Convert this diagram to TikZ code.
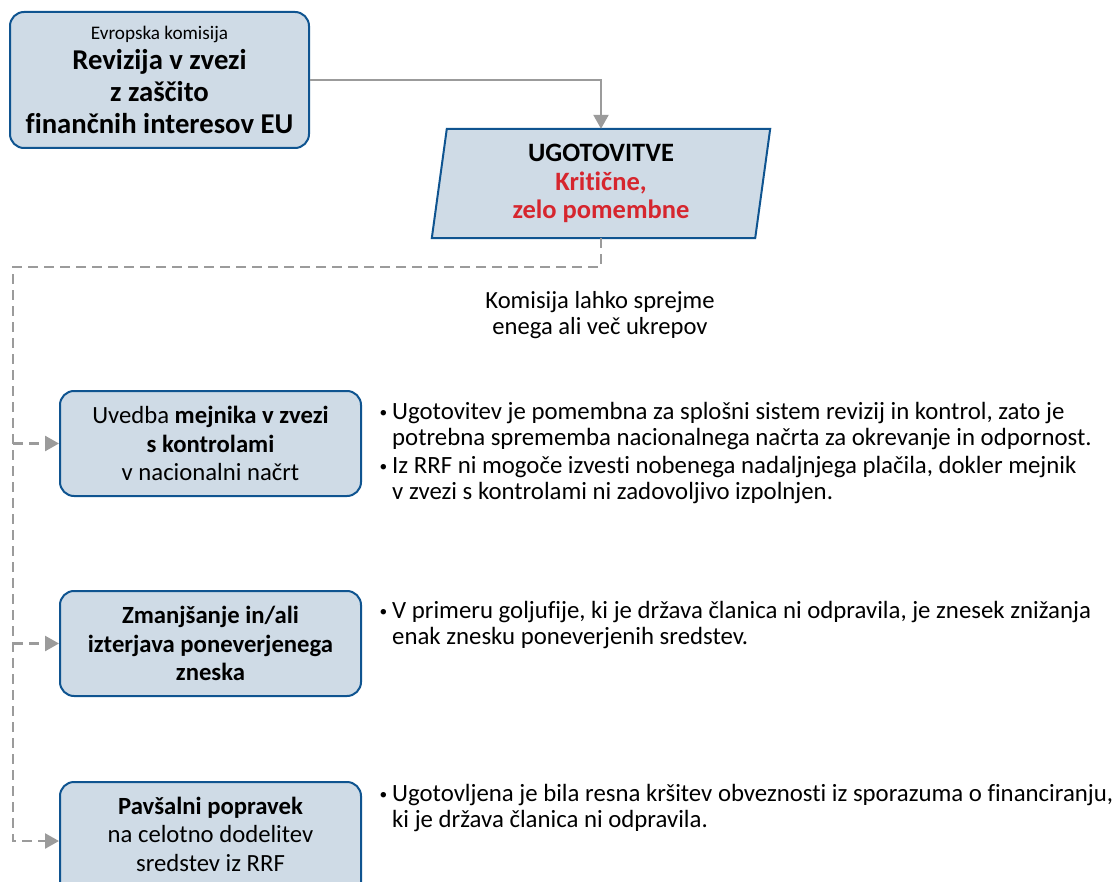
\documentclass[tikz,border=0pt]{standalone}
\usepackage{fontspec}
\setmainfont{Carlito}[Ligatures=NoCommon]
\usetikzlibrary{arrows.meta,backgrounds}
\definecolor{boxfill}{HTML}{CFDBE6}
\definecolor{boxline}{HTML}{0F5490}
\definecolor{conn}{HTML}{9B9B9B}
\definecolor{critred}{HTML}{D6262E}
\newcommand{\smallbul}{\llap{\raisebox{2.2pt}{\scalebox{0.62}{\textbullet}}\hspace{5pt}}}
\begin{document}
\begin{tikzpicture}[x=1pt,y=-1pt,
  box/.style={draw=boxline, fill=boxfill, line width=2pt, rounded corners=14pt,
    minimum width=301pt, minimum height=105pt, align=center, inner sep=0pt,
    font=\fontsize{24.7}{28.5}\selectfont},
  solidarrow/.style={draw=conn, line width=2.5pt, -{Triangle[length=14pt,width=15pt]}},
  dasharrow/.style={draw=conn, line width=2.5pt, dash pattern=on 10pt off 6pt,
    -{Triangle[length=14pt,width=15pt]}},
  bullettext/.style={anchor=base west, align=left, inner sep=0pt,
    font=\fontsize{24.8}{25.5}\selectfont},
]
\useasboundingbox (0,0) rectangle (1116,882);
\clip (0,0) rectangle (1116,882);

% top box
\node[box, minimum width=299pt, minimum height=136pt, font=\fontsize{28.7}{32}\selectfont\bfseries] (top) at (159.5,80)
  {{\fontsize{19.2}{20}\selectfont\mdseries Evropska komisija}\\[-2pt]Revizija v zvezi\\z zaščito\\finančnih interesov EU};

% findings parallelogram
\node[minimum width=323pt, minimum height=109pt, inner sep=0pt, align=center,
  font=\fontsize{26.5}{28.5}\selectfont\bfseries] (find) at (601,183.5)
  {UGOTOVITVE\\\textcolor{critred}{Kritične,}\\\textcolor{critred}{zelo pomembne}};
\begin{scope}[on background layer]
\draw[boxline, fill=boxfill, line width=2pt, line join=miter]
  ([xshift=-7.5pt]find.south west) -- ([xshift=-7.5pt]find.south east)
  -- ([xshift=7.5pt]find.north east) -- ([xshift=7.5pt]find.north west) -- cycle;
\end{scope}

\draw[solidarrow] (top.east) -| (find.north);

% comment
\node[align=center, inner sep=0pt, font=\fontsize{24.6}{26.5}\selectfont] (note) at (600,315)
  {Komisija lahko sprejme\\enega ali več ukrepov};

% measure boxes
\node[box] (b1) at (210.5,443.5)
  {Uvedba \textbf{mejnika v zvezi}\\\textbf{s kontrolami}\\v nacionalni načrt};
\node[box] (b2) at (210.5,643.5)
  {\textbf{Zmanjšanje in/ali}\\\textbf{izterjava poneverjenega}\\\textbf{zneska}};
\node[box, minimum height=118pt, text depth=14pt] (b3) at (210.5,841)
  {\textbf{Pavšalni popravek}\\na celotno dodelitev\\sredstev iz RRF};

% dashed connectors
\coordinate (j) at (13,267);
\draw[dasharrow] (find.south) |- (j) |- (b3.west);
\draw[dasharrow] (j |- b1.west) -- (b1.west);
\draw[dasharrow] (j |- b2.west) -- (b2.west);

% bullet texts (anchored at the baseline of their last line)
\node[bullettext] (t1a) at (392,445)
  {\smallbul Ugotovitev je pomembna za splošni sistem revizij in kontrol, zato je\\potrebna sprememba nacionalnega načrta za okrevanje in odpornost.};
\node[bullettext] (t1b) at (392,499)
  {\smallbul Iz RRF ni mogoče izvesti nobenega nadaljnjega plačila, dokler mejnik\\v zvezi s kontrolami ni zadovoljivo izpolnjen.};
\node[bullettext] (t2) at (392,644)
  {\smallbul V primeru goljufije, ki je država članica ni odpravila, je znesek znižanja\\enak znesku poneverjenih sredstev.};
\node[bullettext] (t3) at (392,827)
  {\smallbul Ugotovljena je bila resna kršitev obveznosti iz sporazuma o financiranju,\\ki je država članica ni odpravila.};
\end{tikzpicture}
\end{document}
